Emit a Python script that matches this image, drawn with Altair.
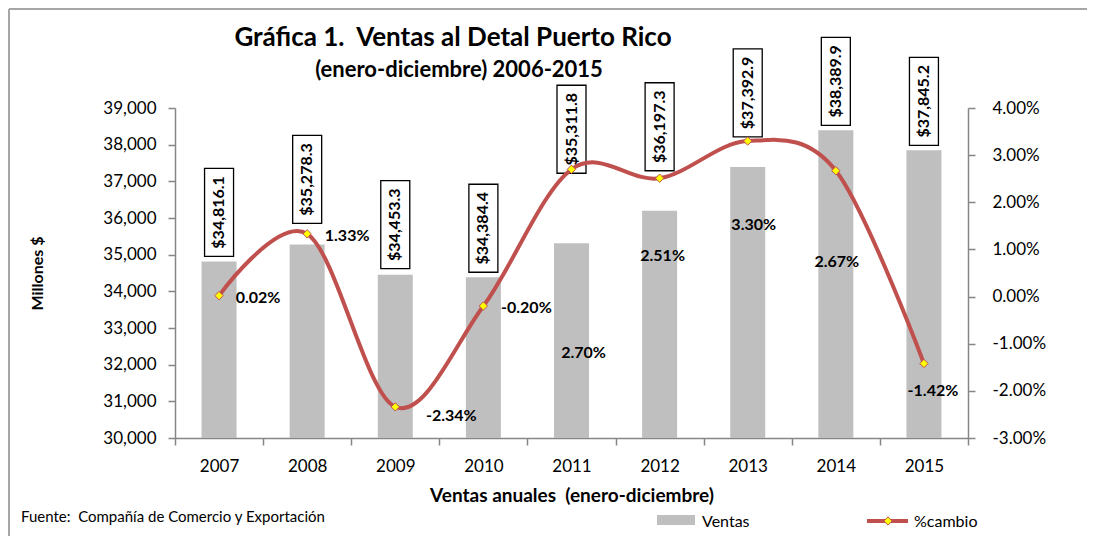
import altair as alt
import pandas as pd

# ---------------- data ----------------
years = ["2007", "2008", "2009", "2010", "2011", "2012", "2013", "2014", "2015"]
ventas = [34816.1, 35278.3, 34453.3, 34384.4, 35311.8, 36197.3, 37392.9, 38389.9, 37845.2]
cambio = [0.02, 1.33, -2.34, -0.20, 2.70, 2.51, 3.30, 2.67, -1.42]
ventas_labels = ["$34,816.1", "$35,278.3", "$34,453.3", "$34,384.4", "$35,311.8",
                 "$36,197.3", "$37,392.9", "$38,389.9", "$37,845.2"]
cambio_labels = ["0.02%", "1.33%", "-2.34%", "-0.20%", "2.70%", "2.51%", "3.30%", "2.67%", "-1.42%"]
left_ticks = [30000, 31000, 32000, 33000, 34000, 35000, 36000, 37000, 38000, 39000]
right_ticks = [-3, -2, -1, 0, 1, 2, 3, 4]

# ---------------- style / layout ----------------
W, H = 793, 330
FONT = "Lato"
RED = "#C0504D"
GRAY_BAR = "#BFBFBF"
AXIS_GRAY = "#868686"
box_lift_px = [5, 21, 6, 5, 70, 40, 30, 5, 5]      # gap between bar top and label box
box_h_px = 88
pct_dx = [39, 40, 56, 43, 12, 3, 6, 1, 9]
pct_dy = [2, 2, 9, 2, 184, 78, 84, 91, 27]

df = pd.DataFrame({"year": years, "ventas": ventas, "cambio": cambio,
                   "vlabel": ventas_labels, "clabel": cambio_labels})
one = pd.DataFrame({"a": [0]})

xscale = alt.Scale(domain=years, paddingInner=0, paddingOuter=0)
X = alt.X("year:N", scale=xscale,
          axis=alt.Axis(title="Ventas anuales\u00a0 (enero-diciembre)", labelAngle=0, tickBand="extent",
                        tickSize=7, labelPadding=13, labelFontSize=17, labelFont=FONT, labelColor="black",
                        domainColor=AXIS_GRAY, tickColor=AXIS_GRAY, domainWidth=1.5, tickWidth=1.5,
                        titleFont=FONT, titleFontSize=19, titleFontWeight="bold", titleColor="black",
                        titlePadding=12))

ysL = alt.Scale(domain=[30000, 39000], nice=False, zero=False)
ysR = alt.Scale(domain=[-3, 4], nice=False, zero=False)
kL = 9000 / H

base = alt.Chart(df)

bars = base.mark_bar(width=35, color=GRAY_BAR).encode(
    x=X,
    y=alt.Y("ventas:Q", scale=ysL,
            axis=alt.Axis(values=left_ticks, format=",d", title="Millones $", grid=False, orient="left",
                          tickSize=7, labelPadding=12, labelFontSize=17, labelFont=FONT, labelColor="black",
                          domainColor=AXIS_GRAY, tickColor=AXIS_GRAY, domainWidth=1.5, tickWidth=1.5,
                          titleFont=FONT, titleFontSize=16, titleFontWeight="bold", titleColor="black",
                          titlePadding=57)),
    y2=alt.datum(30000),
)

layers = [bars]
for i, yv in enumerate(years):
    lo = box_lift_px[i] * kL
    hi = (box_lift_px[i] + box_h_px) * kL
    mid = (box_lift_px[i] + box_h_px / 2) * kL
    sub = base.transform_filter(alt.datum.year == yv).transform_calculate(
        lo=f"datum.ventas + {lo}", hi=f"datum.ventas + {hi}", mid=f"datum.ventas + {mid}")
    box = sub.mark_bar(width=29, fill="white", stroke="black", strokeWidth=1.3).encode(
        x=X, y=alt.Y("lo:Q", scale=ysL, axis=None), y2="hi:Q")
    txt = sub.mark_text(angle=270, align="center", baseline="middle", font=FONT, fontSize=16,
                        fontWeight="bold", color="black").encode(
        x=X, y=alt.Y("mid:Q", scale=ysL, axis=None), text="vlabel:N")
    layers += [box, txt]

line = base.mark_line(interpolate="cardinal", color=RED, strokeWidth=4).encode(
    x=X,
    y=alt.Y("cambio:Q", scale=ysR,
            axis=alt.Axis(orient="right", values=right_ticks, title=None, grid=False,
                          labelExpr="(datum.value < 0 ? '-' : '') + format(abs(datum.value), '.2f') + '%'",
                          tickSize=7, labelPadding=17, labelFontSize=17, labelFont=FONT, labelColor="black",
                          domainColor=AXIS_GRAY, tickColor=AXIS_GRAY, domainWidth=1.5, tickWidth=1.5)),
)
pts = base.mark_point(shape="diamond", filled=True, fill="#FFFF00", stroke=RED, strokeWidth=1,
                      size=70, opacity=1).encode(
    x=X, y=alt.Y("cambio:Q", scale=ysR, axis=None))
layers += [line, pts]

for i, yv in enumerate(years):
    layers.append(
        base.transform_filter(alt.datum.year == yv).mark_text(
            dx=pct_dx[i], dy=pct_dy[i], align="center", baseline="middle", font=FONT, fontSize=16,
            fontWeight="bold", color="black").encode(
            x=X, y=alt.Y("cambio:Q", scale=ysR, axis=None), text="clabel:N"))

ann = alt.Chart(one)
title = ann.mark_text(text="Gráfica 1.\u00a0 Ventas al Detal Puerto Rico", font=FONT, fontSize=26,
                      fontWeight="bold", align="center", baseline="middle", color="black").encode(
    x=alt.value(278), y=alt.value(-70))
subtitle = ann.mark_text(text="(enero-diciembre) 2006-2015", font=FONT, fontSize=22,
                         fontWeight="bold", align="center", baseline="middle", color="black").encode(
    x=alt.value(284), y=alt.value(-38))
footer = ann.mark_text(text="Fuente:\u00a0 Compañía de Comercio y Exportación", font=FONT, fontSize=15,
                       align="left", baseline="middle", color="black").encode(
    x=alt.value(-154), y=alt.value(409))
leg_box = ann.mark_rect(color=GRAY_BAR).encode(
    x=alt.value(482), x2=alt.value(520), y=alt.value(407), y2=alt.value(417))
leg_t1 = ann.mark_text(text="Ventas", font=FONT, fontSize=16, align="left", baseline="middle",
                       color="black").encode(x=alt.value(527), y=alt.value(414))
leg_line = ann.mark_rule(color=RED, strokeWidth=4).encode(
    x=alt.value(692), x2=alt.value(733), y=alt.value(413))
leg_pt = ann.mark_point(shape="diamond", filled=True, fill="#FFFF00", stroke=RED, strokeWidth=1,
                        size=70, opacity=1).encode(x=alt.value(713), y=alt.value(413))
leg_t2 = ann.mark_text(text="%cambio", font=FONT, fontSize=16, align="left", baseline="middle",
                       color="black").encode(x=alt.value(739), y=alt.value(414))
border_l = ann.mark_rule(color="#A6A6A6", strokeWidth=2).encode(
    x=alt.value(-166), y=alt.value(-99), y2=alt.value(428))
border_t = ann.mark_rule(color="#A6A6A6", strokeWidth=2).encode(
    x=alt.value(-166), x2=alt.value(912), y=alt.value(-99))

layers += [title, subtitle, footer, leg_box, leg_t1, leg_line, leg_pt, leg_t2, border_l, border_t]

chart = alt.layer(*layers).resolve_scale(y="independent").properties(
    width=W, height=H, padding=0,
).configure(background="white").configure_view(stroke=None)

chart.save("out.html", embed_options={"renderer": "svg", "actions": False})
